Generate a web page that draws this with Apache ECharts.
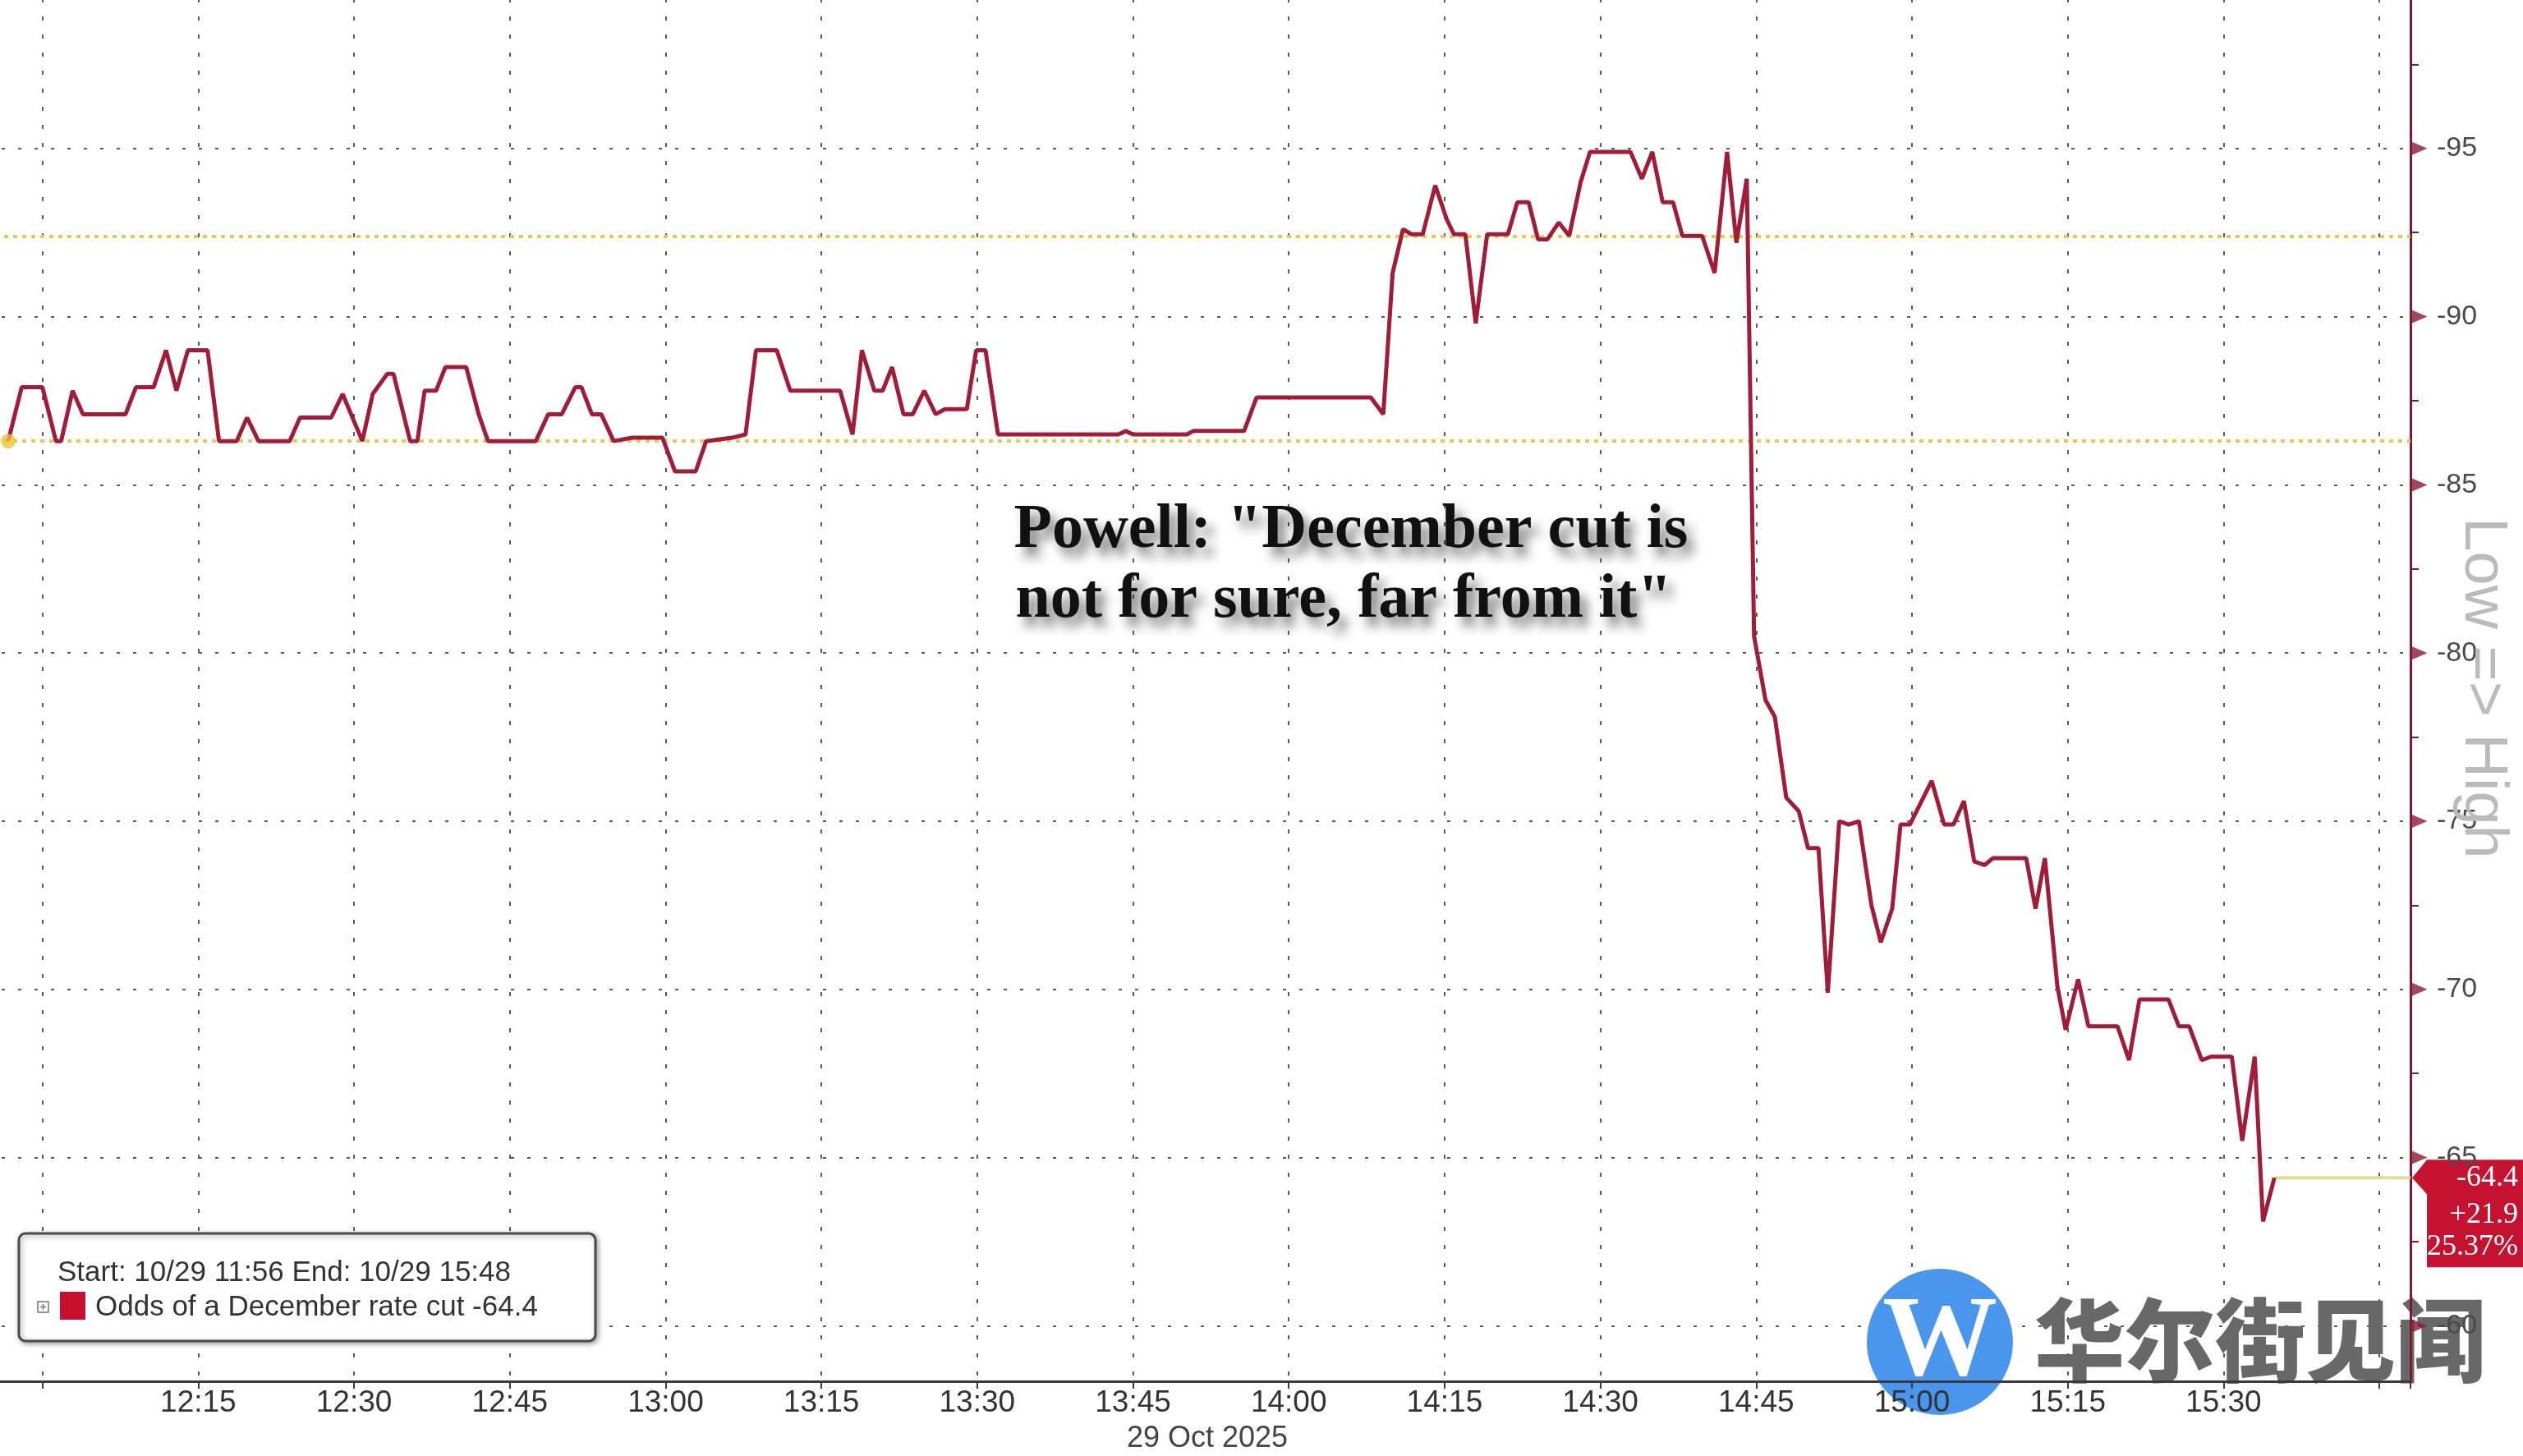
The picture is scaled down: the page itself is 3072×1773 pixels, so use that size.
<!DOCTYPE html>
<html><head><meta charset="utf-8">
<script src="https://cdn.jsdelivr.net/npm/echarts@6/dist/echarts.min.js"></script>
<style>html,body{margin:0;padding:0;background:#fff;overflow:hidden}#c{width:3072px;height:1773px}</style>
</head><body><div id="c"></div>
<script>
// time in minutes after 12:00 on 29 Oct 2025
const times = [
  -3.3, -2, 0, 1.3, 1.8, 2.9, 3.9, 8, 9, 10.7,
  11.9, 12.9, 14, 15.9, 17, 18.7, 19.7, 20.8, 23.8, 24.8,
  27.8, 28.9, 30.8, 31.8, 33.2, 33.8, 35.4, 36.1, 36.8, 37.9,
  38.8, 40.8, 42, 42.9, 47.5, 48.7, 50, 51.3, 51.9, 52.9,
  53.8, 55, 56.8, 59.7, 60.9, 62.9, 63.9, 66.4, 67.7, 68.7,
  70.7, 72, 76.8, 78, 78.9, 80.1, 80.9, 81.8, 82.9, 83.8,
  84.9, 86, 86.9, 89, 89.9, 90.8, 92, 103.6, 104.3, 105,
  110.2, 110.8, 115.7, 116.9, 127.9, 129.1, 130, 131, 131.8, 132.9,
  134.1, 135.2, 135.9, 137, 138, 139.1, 141.1, 142, 143.1, 144,
  144.9, 146, 147, 148.1, 149, 152.9, 154, 155, 156, 157,
  157.9, 159.8, 161, 162.2, 163.1, 164.1, 164.8, 165.9, 166.8, 167.9,
  169.1, 170, 171, 171.9, 173, 173.9, 174.9, 176.1, 177, 178.1,
  178.9, 179.8, 181.9, 183.1, 184, 185, 186, 187, 187.8, 191,
  191.9, 192.8, 194, 194.8, 196, 197, 199.8, 200.9, 201.9, 204.7,
  205.7, 206.7, 207.9, 208.8, 210.8, 211.8, 213, 213.8, 214.9
];
const values = [
  -86.3, -87.9, -87.9, -86.3, -86.3, -87.8, -87.1, -87.1, -87.9, -87.9,
  -89.0, -87.8, -89.0, -89.0, -86.3, -86.3, -87.0, -86.3, -86.3, -87.0,
  -87.0, -87.7, -86.3, -87.7, -88.3, -88.3, -86.3, -86.3, -87.8, -87.8,
  -88.5, -88.5, -87.1, -86.3, -86.3, -87.1, -87.1, -87.9, -87.9, -87.1,
  -87.1, -86.3, -86.4, -86.4, -85.4, -85.4, -86.3, -86.4, -86.5, -89.0,
  -89.0, -87.8, -87.8, -86.5, -89.0, -87.8, -87.8, -88.5, -87.1, -87.1,
  -87.8, -87.1, -87.25, -87.25, -89.0, -89.0, -86.5, -86.5, -86.6, -86.5,
  -86.5, -86.6, -86.6, -87.6, -87.6, -87.1, -91.3, -92.6, -92.45, -92.45,
  -93.9, -92.9, -92.45, -92.45, -89.8, -92.45, -92.45, -93.4, -93.4, -92.3,
  -92.3, -92.8, -92.4, -94.0, -94.9, -94.9, -94.1, -94.9, -93.4, -93.4,
  -92.4, -92.4, -91.3, -94.9, -92.2, -94.1, -80.5, -78.6, -78.1, -75.7,
  -75.3, -74.2, -74.2, -69.9, -75.0, -74.9, -75.0, -72.5, -71.4, -72.4,
  -74.9, -74.9, -76.2, -74.9, -74.9, -75.6, -73.8, -73.7, -73.9, -73.9,
  -72.4, -73.9, -70.1, -68.8, -70.3, -68.9, -68.9, -67.9, -69.7, -69.7,
  -68.9, -68.9, -67.9, -68.0, -68.0, -65.5, -68.0, -63.1, -64.4
];
const xTickLabels = ['12:15','12:30','12:45','13:00','13:15','13:30','13:45','14:00','14:15','14:30','14:45','15:00','15:15','15:30'];
const yTicks = [-95, -90, -85, -80, -75, -70, -65, -60];
const startVal = -86.3;
const refLevel = -92.4;
const xEnd = 228;          // 15:48
const changeText = '+21.9';
const changePct = '25.37%';
const seriesName = 'Odds of a December rate cut';
const rangeText = 'Start: 10/29 11:56 End: 10/29 15:48';
const dateText = '29 Oct 2025';
const axisTitle = 'Low => High';
const noteLines = ['Powell: "December cut is', 'not for sure, far from it"'];

const lastT = times[times.length - 1];
const lastVal = values[values.length - 1];
const lineData = times.map((t, i) => [t, values[i]]);

function fmtTime(m) {
  const t = Math.round(m);
  const h = 12 + Math.floor(t / 60);
  const mm = ((t % 60) + 60) % 60;
  return h + ':' + (mm < 10 ? '0' : '') + mm;
}

const chart = echarts.init(document.getElementById('c'));
const option = {
  animation: false,
  backgroundColor: '#ffffff',
  grid: { left: -138, right: 137, top: -24, bottom: 91, containLabel: false, outerBoundsMode: 'none' },
  xAxis: {
    type: 'value', min: -15, max: xEnd, interval: 15,
    axisLine: { onZero: false, lineStyle: { color: '#3a3a3a', width: 3 } },
    axisTick: { show: true, length: 9, lineStyle: { color: '#3a3a3a', width: 2 } },
    axisLabel: {
      formatter: v => { const s = fmtTime(v); return xTickLabels.includes(s) ? s : ''; },
      color: '#333', fontFamily: 'Liberation Sans', fontSize: 37, margin: 8
    },
    splitLine: { show: true, lineStyle: { color: '#5a5a5a', width: 2, type: [5, 17] } }
  },
  yAxis: {
    type: 'value', position: 'right', inverse: true, min: -100, max: -58.35, interval: 5,
    axisLine: { show: true, onZero: false, lineStyle: { color: '#7d1a33', width: 3 } },
    axisTick: { show: false },
    minorTick: { show: true, splitNumber: 2, length: 10, lineStyle: { color: '#7d1a33', width: 2 } },
    axisLabel: {
      formatter: v => (yTicks.includes(Math.round(v * 100) / 100) ? String(Math.round(v)) : ''),
      color: '#4a4a4a', fontSize: 34, fontFamily: 'Liberation Sans', margin: 32
    },
    splitLine: { show: true, lineStyle: { color: '#5a5a5a', width: 2, type: [4, 16] } }
  },
  series: [
    {
      name: 'ref', type: 'line', data: [], z: 1, silent: true,
      markLine: {
        silent: true, symbol: ['none', 'none'], label: { show: false },
        lineStyle: { color: '#e0cc55', width: 4, type: [5, 6] },
        data: [{ yAxis: startVal }, { yAxis: refLevel }]
      }
    },
    {
      name: seriesName, type: 'line', data: lineData, z: 5,
      symbol: 'none', lineStyle: { color: '#a01c37', width: 5 }
    },
    {
      name: 'last', type: 'line', data: [[lastT, lastVal], [xEnd, lastVal]], z: 4,
      symbol: 'none', lineStyle: { color: '#e6dc9a', width: 4 }
    },
    {
      name: 'start', type: 'scatter', data: [[times[0], values[0]]], z: 6,
      symbol: 'circle', symbolSize: 18, itemStyle: { color: '#e8c53a' }
    },
    {
      name: 'axisMarks', type: 'scatter', data: yTicks.map(v => [xEnd, v]), z: 7,
      symbol: 'triangle', symbolRotate: -90, symbolSize: [18, 21], symbolOffset: [10, 0],
      clip: false, silent: true, itemStyle: { color: '#8b1a35' }
    }
  ]
};
chart.setOption(option);

const [px, py] = chart.convertToPixel({ gridIndex: 0 }, [xEnd, lastVal]);
const serif = '"Liberation Serif", "Times New Roman", serif';
const noteStyle = {
  align: 'center', verticalAlign: 'middle', textAlign: 'center', textVerticalAlign: 'middle',
  font: 'bold 76px ' + serif, fill: '#111',
  shadowBlur: 14, shadowColor: 'rgba(0,0,0,0.55)', shadowOffsetX: 8, shadowOffsetY: 11,
  textShadowBlur: 14, textShadowColor: 'rgba(0,0,0,0.55)', textShadowOffsetX: 8, textShadowOffsetY: 11
};
chart.setOption({
  graphic: [
    { type: 'text', x: 1645, y: 646, z: 50, style: Object.assign({ text: noteLines[0] }, noteStyle) },
    { type: 'text', x: 1636, y: 731, z: 50, style: Object.assign({ text: noteLines[1] }, noteStyle) },
    // right axis title
    { type: 'text', x: 3022, y: 838, rotation: -Math.PI / 2, z: 40,
      style: { text: axisTitle, font: '74px "Liberation Sans"', fill: '#bbbbbb', align: 'center', verticalAlign: 'middle', textAlign: 'center', textVerticalAlign: 'middle' } },
    // legend box
    {
      type: 'group', x: 23, y: 1502, z: 60,
      children: [
        { type: 'rect', shape: { x: 0, y: 0, width: 702, height: 131, r: 8 },
          style: { fill: '#fff', stroke: '#4a4a4a', lineWidth: 3, shadowBlur: 6, shadowColor: 'rgba(0,0,0,0.35)', shadowOffsetX: 2, shadowOffsetY: 2 } },
        { type: 'text', x: 47, y: 48, style: { text: rangeText, font: '35px "Liberation Sans"', fill: '#333', verticalAlign: 'middle', textVerticalAlign: 'middle' } },
        { type: 'rect', shape: { x: 23, y: 83, width: 13, height: 13 }, style: { fill: '#fff', stroke: '#777', lineWidth: 1.5 } },
        { type: 'line', shape: { x1: 26, y1: 89.5, x2: 33, y2: 89.5 }, style: { stroke: '#777', lineWidth: 1.5 } },
        { type: 'line', shape: { x1: 29.5, y1: 86, x2: 29.5, y2: 93 }, style: { stroke: '#777', lineWidth: 1.5 } },
        { type: 'rect', shape: { x: 50, y: 71, width: 31, height: 34 }, style: { fill: '#c8102e' } },
        { type: 'text', x: 93, y: 90, style: { text: seriesName + ' ' + lastVal.toFixed(1), font: '35px "Liberation Sans"', fill: '#333', verticalAlign: 'middle', textVerticalAlign: 'middle' } }
      ]
    },
    // date
    { type: 'text', x: 1470, y: 1752, z: 50,
      style: { text: dateText, font: '36px "Liberation Sans"', fill: '#444', align: 'center', verticalAlign: 'middle', textAlign: 'center', textVerticalAlign: 'middle' } },
    // last value box
    {
      type: 'group', x: 0, y: 0, z: 70,
      children: [
        { type: 'polygon', shape: { points: [[px + 2, py], [px + 20, py - 22], [3072, py - 22], [3072, py + 109], [px + 20, py + 109], [px + 20, py + 20]] },
          style: { fill: '#c41230' } },
        { type: 'text', x: 3066, y: py, style: { text: lastVal.toFixed(1), font: '36px ' + serif, fill: '#fff', align: 'right', verticalAlign: 'middle', textAlign: 'right', textVerticalAlign: 'middle' } },
        { type: 'text', x: 3066, y: py + 45, style: { text: changeText, font: '36px ' + serif, fill: '#fff', align: 'right', verticalAlign: 'middle', textAlign: 'right', textVerticalAlign: 'middle' } },
        { type: 'text', x: 3066, y: py + 84, style: { text: changePct, font: '36px ' + serif, fill: '#fff', align: 'right', verticalAlign: 'middle', textAlign: 'right', textVerticalAlign: 'middle' } }
      ]
    },
    // watermark
    {
      type: 'group', x: 0, y: 0, z: 80,
      children: [
        { type: 'circle', shape: { cx: 2362, cy: 1634, r: 89 }, style: { fill: '#4a96ec' } },
        { type: 'text', x: 2362, y: 1638, style: { text: 'W', font: 'bold 140px ' + serif, fill: '#fff', align: 'center', verticalAlign: 'middle', textAlign: 'center', textVerticalAlign: 'middle' } },
        { type: 'text', x: 2477, y: 1632, style: { text: '华尔街见闻', font: '900 110px "Noto Sans CJK SC"', fill: '#686868', verticalAlign: 'middle', textVerticalAlign: 'middle' } }
      ]
    }
  ]
});
</script>
</body></html>
